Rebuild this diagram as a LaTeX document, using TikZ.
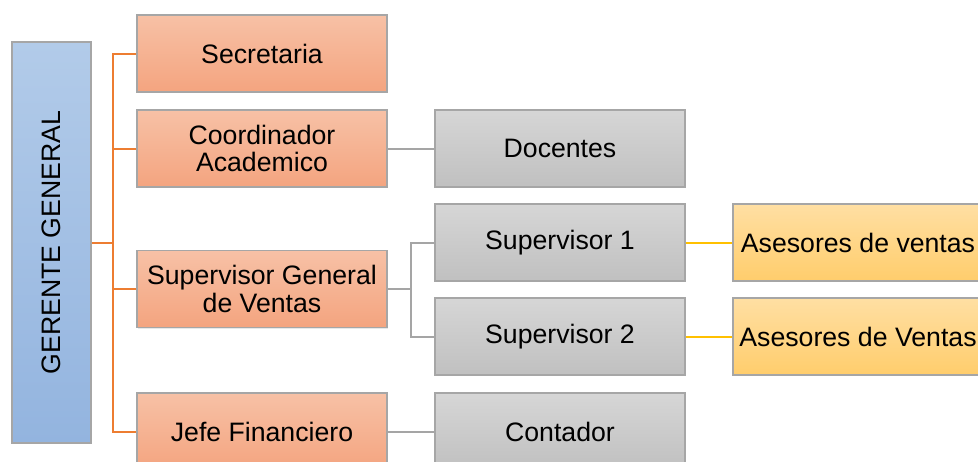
\documentclass[tikz,border=0pt]{standalone}
\usepackage{fontspec}
\setmainfont{Liberation Sans}
\usetikzlibrary{shadows}
\definecolor{orA}{HTML}{F7C1A6}
\definecolor{orB}{HTML}{F4A47F}
\definecolor{grA}{HTML}{D6D6D6}
\definecolor{grB}{HTML}{C0C0C0}
\definecolor{yeA}{HTML}{FFDFA3}
\definecolor{yeB}{HTML}{FFCD6C}
\definecolor{blA}{HTML}{B2CBE9}
\definecolor{blB}{HTML}{93B4DF}
\definecolor{edgeC}{HTML}{A6A6A6}
\definecolor{lnOr}{HTML}{ED7D31}
\definecolor{lnGr}{HTML}{A5A5A5}
\definecolor{lnYe}{HTML}{FFC000}
\begin{document}
\begin{tikzpicture}[x=0.75pt,y=-0.75pt,
  box/.style={rectangle, draw=edgeC, line width=0.9pt, inner sep=0pt,
    minimum width=187.5pt, minimum height=57.75pt, align=center,
    font=\fontsize{20}{20.5}\selectfont,
    drop shadow={opacity=0.18, shadow xshift=0.8pt, shadow yshift=-0.8pt}},
  obox/.style={box, top color=orA, bottom color=orB},
  gbox/.style={box, top color=grA, bottom color=grB},
  ybox/.style={box, top color=yeA, bottom color=yeB},
  bbox/.style={box, top color=blA, bottom color=blB, minimum width=59.25pt, minimum height=300.75pt},
  oline/.style={draw=lnOr, line width=1.5pt},
  gline/.style={draw=lnGr, line width=1.5pt},
  yline/.style={draw=lnYe, line width=1.5pt}]
\useasboundingbox (0,0) rectangle (978,461);
\node[bbox] (ger) at (51.5,242.5) {};
\node[rotate=90, font=\fontsize{20}{20.5}\selectfont] (gertext) at (ger.center) {GERENTE GENERAL};
\node[obox] (sec) at (262,53.5) {Secretaria};
\node[obox] (coo) at (262,148.5) {Coordinador\\Academico};
\node[obox] (sgv) at (262,289) {Supervisor General\\de Ventas};
\node[obox] (jef) at (262,431.5) {Jefe Financiero};
\node[gbox] (doc) at (560,148.5) {Docentes};
\node[gbox] (sup1) at (560,242.5) {Supervisor 1};
\node[gbox] (sup2) at (560,336.5) {Supervisor 2};
\node[gbox] (con) at (560,431.5) {Contador};
\node[ybox] (as1) at (858,242.5) {Asesores de ventas};
\node[ybox] (as2) at (858,336.5) {Asesores de Ventas};
\coordinate (oj) at (113,242.5);
\coordinate (gj) at (411,289);
\draw[oline] (ger.east |- oj) -- (oj);
\draw[oline] (sec.west) -| (oj) |- (jef.west);
\draw[oline] (coo.west) -- (coo.west -| oj);
\draw[oline] (sgv.west) -- (sgv.west -| oj);
\draw[gline] (coo.east) -- (doc.west);
\draw[gline] (sgv.east) -- (gj);
\draw[gline] (sup1.west) -| (gj) |- (sup2.west);
\draw[gline] (jef.east) -- (con.west);
\draw[yline] (sup1.east) -- (as1.west);
\draw[yline] (sup2.east) -- (as2.west);
\end{tikzpicture}
\end{document}
